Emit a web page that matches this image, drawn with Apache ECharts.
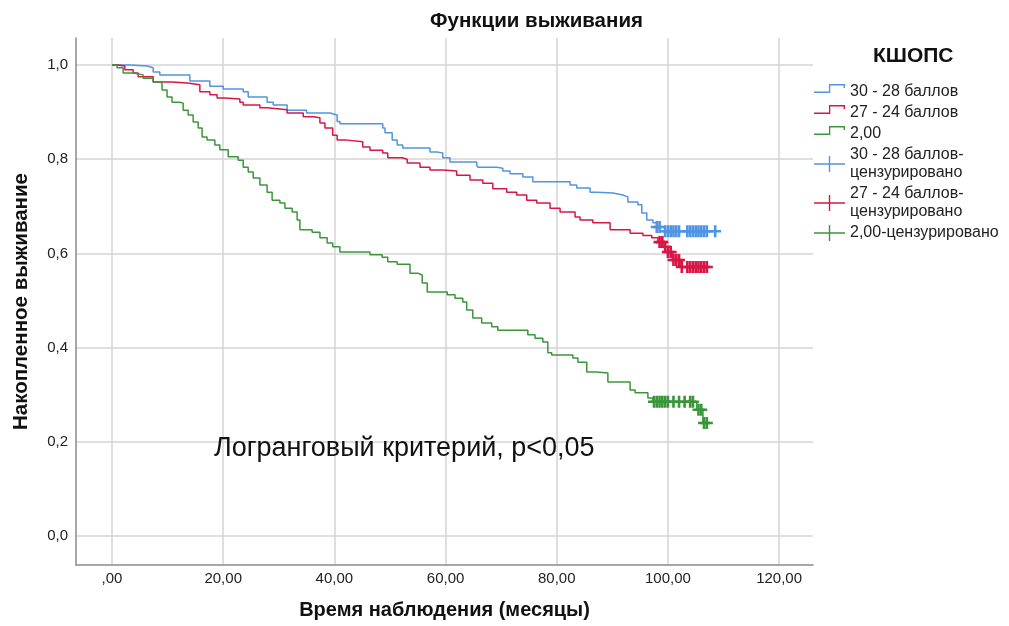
<!DOCTYPE html>
<html><head><meta charset="utf-8">
<script src="https://cdn.jsdelivr.net/npm/echarts@6/dist/echarts.min.js"></script>
<style>html,body{margin:0;padding:0;background:#fff}#c{width:1009px;height:626px}</style>
</head><body><div id="c"></div>
<script>
// ---------- data ----------
const xTicks = [0, 20, 40, 60, 80, 100, 120];
const yTicks = [0, 0.2, 0.4, 0.6, 0.8, 1.0];
const groupNames = ['30 - 28 баллов', '27 - 24 баллов', '2,00'];
const censorNames = ['30 - 28 баллов-цензурировано', '27 - 24 баллов-цензурировано', '2,00-цензурировано'];

const blueTime = [0, 3.2, 6.3, 7.4, 8.6, 14, 17.6, 20, 23.6, 24.5, 27.9, 29, 31.5, 35, 39.2, 40.5, 41, 48.7, 49.1, 50.4, 51.3, 52.3, 57.2, 58.6, 59.5, 60.8, 65.6, 65.8, 69.2, 70.3, 71.6, 73.9, 75.7, 82.4, 83.6, 86, 87.2, 90.1, 91.9, 92.8, 94.6, 95.3, 96.2, 97.3, 98, 99.5];
const blueSurv = [1, 0.998, 0.994, 0.985, 0.979, 0.966, 0.955, 0.949, 0.943, 0.932, 0.921, 0.915, 0.904, 0.898, 0.894, 0.880, 0.875, 0.866, 0.856, 0.841, 0.830, 0.824, 0.815, 0.813, 0.803, 0.794, 0.788, 0.783, 0.781, 0.775, 0.769, 0.762, 0.752, 0.745, 0.739, 0.730, 0.728, 0.724, 0.720, 0.709, 0.703, 0.686, 0.671, 0.665, 0.656, 0.647];
const blueCensor = [98, 98.5, 99.5, 100, 100.5, 101, 101.5, 102, 103.5, 104, 104.5, 105, 105.5, 106, 106.5, 107, 108.5];

const redTime = [0, 0.9, 2.3, 3.8, 4.7, 7.4, 10.8, 13.5, 15.8, 17.6, 18.9, 20.3, 23, 23.6, 26.6, 27.9, 31.5, 34.4, 36.2, 37.4, 38.3, 39.7, 40.5, 41.9, 45.1, 46.4, 48.7, 49.6, 52.2, 53.1, 55.4, 57.2, 59.5, 62, 64.4, 66.7, 68.5, 71, 72.8, 74.6, 76.4, 78.8, 80.6, 83.3, 84.2, 86.5, 89.6, 93.2, 95.5, 97.1, 98.2, 99.1, 100, 100.9, 102.2];
const redSurv = [1, 0.998, 0.990, 0.983, 0.975, 0.964, 0.962, 0.958, 0.943, 0.937, 0.930, 0.928, 0.921, 0.915, 0.909, 0.905, 0.898, 0.890, 0.888, 0.877, 0.866, 0.851, 0.841, 0.837, 0.826, 0.819, 0.813, 0.803, 0.800, 0.792, 0.783, 0.777, 0.775, 0.766, 0.756, 0.749, 0.737, 0.730, 0.724, 0.713, 0.707, 0.696, 0.688, 0.677, 0.671, 0.665, 0.650, 0.643, 0.638, 0.633, 0.624, 0.614, 0.603, 0.586, 0.571];
const redCensor = [98.5, 99, 99.5, 100, 100.5, 101, 101.5, 102, 102.5, 103.5, 104, 104.5, 105, 105.5, 106, 106.5, 107];

const greenTime = [0, 0.9, 2, 3.8, 5.6, 7.4, 8.3, 9, 9.9, 10.8, 12.2, 12.8, 13.7, 14.6, 15.5, 16.2, 17.1, 18.5, 19.4, 20.9, 22.7, 23.6, 24.5, 25.4, 26.6, 27.9, 28.8, 30.2, 31.1, 32.4, 33.3, 33.8, 36, 37.4, 38.7, 39.7, 41, 46.4, 48.6, 49.6, 51.3, 53.6, 55, 55.8, 56.7, 60.3, 61.7, 63.1, 63.8, 64.9, 66.5, 68.3, 69.4, 74.8, 76.1, 77.5, 78.4, 79.1, 82.9, 83.8, 85.4, 87.2, 89.2, 93.2, 94.1, 96.4, 97.3, 105.2, 106.3];
const greenSurv = [1, 0.994, 0.983, 0.979, 0.972, 0.964, 0.962, 0.947, 0.932, 0.921, 0.919, 0.904, 0.894, 0.879, 0.866, 0.847, 0.841, 0.830, 0.820, 0.805, 0.798, 0.783, 0.773, 0.760, 0.745, 0.730, 0.713, 0.707, 0.696, 0.688, 0.671, 0.650, 0.645, 0.633, 0.622, 0.614, 0.603, 0.597, 0.592, 0.582, 0.577, 0.558, 0.554, 0.537, 0.518, 0.512, 0.505, 0.497, 0.480, 0.463, 0.452, 0.444, 0.437, 0.427, 0.420, 0.412, 0.389, 0.384, 0.378, 0.369, 0.348, 0.346, 0.327, 0.310, 0.304, 0.293, 0.285, 0.268, 0.240];
const greenCensor = [97.5, 98, 98.5, 99, 99.5, 100, 101, 102, 103, 104, 104.5, 105.5, 106, 106.5, 107];

// ---------- helpers ----------
const FONT = '"Liberation Sans", Arial, sans-serif';
const colors = ['#5094e4', '#d81645', '#3b963b'];
function survAt(times, surv, t) {
  let v = surv[0];
  for (let i = 0; i < times.length; i++) { if (times[i] <= t) v = surv[i]; }
  return v;
}
function stepData(times, surv, censor) {
  const d = times.map((t, i) => [t, surv[i]]);
  const last = censor[censor.length - 1];
  if (last > times[times.length - 1]) d.push([last, surv[surv.length - 1]]);
  return d;
}
function censorData(times, surv, censor) {
  return censor.map(t => [t, survAt(times, surv, t)]);
}
const PLUS = 'path://M3.9,0H6.1V3.9H10V6.1H6.1V10H3.9V6.1H0V3.9H3.9Z';
const LEG_PLUS = 'path://M0,7.3H14.8V0H16.2V7.3H31V8.7H16.2V16H14.8V8.7H0Z';
const LEG_STEP = 'path://M0,7.6H15V0H31V4H29.6V1.4H16.3V9H0Z M30.99,16L31,16L31,15.99Z';

const groups = [
  [blueTime, blueSurv, blueCensor],
  [redTime, redSurv, redCensor],
  [greenTime, greenSurv, greenCensor]
];
const series = [];
groups.forEach((g, i) => {
  series.push({
    name: groupNames[i], type: 'line', step: 'end', symbol: 'none',
    data: stepData(g[0], g[1], g[2]),
    lineStyle: { color: colors[i], width: 1.5 },
    itemStyle: { color: colors[i] },
    z: 3 + i
  });
});
groups.forEach((g, i) => {
  series.push({
    name: censorNames[i], type: 'scatter', symbol: PLUS, symbolSize: 12,
    data: censorData(g[0], g[1], g[2]),
    itemStyle: { color: colors[i], opacity: 1 },
    z: 6 + i
  });
});

const chart = echarts.init(document.getElementById('c'), null, { renderer: 'canvas' });
chart.setOption({
  animation: false,
  backgroundColor: '#ffffff',
  title: [
    { text: 'Функции выживания', left: 430, top: 11, padding: 0,
      textStyle: { fontFamily: FONT, fontSize: 20.5, fontWeight: 'bold', color: '#111' } },
    { text: 'КШОПС', left: 873, top: 46, padding: 0,
      textStyle: { fontFamily: FONT, fontSize: 21, fontWeight: 'bold', color: '#111' } }
  ],
  grid: { left: 76, right: 196, top: 38, bottom: 61, outerBoundsMode: 'none' },
  xAxis: {
    type: 'value', min: -6.48, max: 126.1,
    name: 'Время наблюдения (месяцы)', nameLocation: 'middle', nameGap: 35,
    nameTextStyle: { fontFamily: FONT, fontSize: 20, fontWeight: 'bold', color: '#111' },
    axisLine: { show: true, onZero: false, lineStyle: { color: '#8a8a8a', width: 1.5 } },
    axisTick: { show: false, customValues: xTicks },
    axisLabel: { customValues: xTicks, margin: 6, fontFamily: FONT, fontSize: 15, color: '#222',
      formatter: v => v === 0 ? ',00' : v.toFixed(2).replace('.', ',') },
    splitLine: { show: true, lineStyle: { color: '#d4d4d4', width: 1.5 } }
  },
  yAxis: {
    type: 'value', min: -0.0616, max: 1.0573,
    name: 'Накопленное выживание', nameLocation: 'middle', nameGap: 44,
    nameTextStyle: { fontFamily: FONT, fontSize: 20.5, fontWeight: 'bold', color: '#111' },
    axisLine: { show: true, onZero: false, lineStyle: { color: '#8a8a8a', width: 1.5 } },
    axisTick: { show: false, customValues: yTicks },
    axisLabel: { customValues: yTicks, margin: 8, fontFamily: FONT, fontSize: 15, color: '#222',
      formatter: v => v.toFixed(1).replace('.', ',') },
    splitLine: { show: true, lineStyle: { color: '#d4d4d4', width: 1.5 } }
  },
  legend: {
    orient: 'vertical', left: 814, top: 83, padding: 0, itemGap: 3,
    itemWidth: 31, itemHeight: 16, selectedMode: false,
    textStyle: { fontFamily: FONT, fontSize: 16, color: '#222', lineHeight: 18 },
    formatter: n => n.replace('баллов-', 'баллов-\n'),
    data: [
      { name: groupNames[0], icon: LEG_STEP },
      { name: groupNames[1], icon: LEG_STEP },
      { name: groupNames[2], icon: LEG_STEP },
      { name: censorNames[0], icon: LEG_PLUS },
      { name: censorNames[1], icon: LEG_PLUS },
      { name: censorNames[2], icon: LEG_PLUS }
    ]
  },
  graphic: [
    { type: 'text', left: 214, top: 435, z: 100,
      style: { text: 'Логранговый критерий, p<0,05', fontFamily: FONT, fontSize: 27, fill: '#111' } }
  ],
  series: series
});
</script>
</body></html>
